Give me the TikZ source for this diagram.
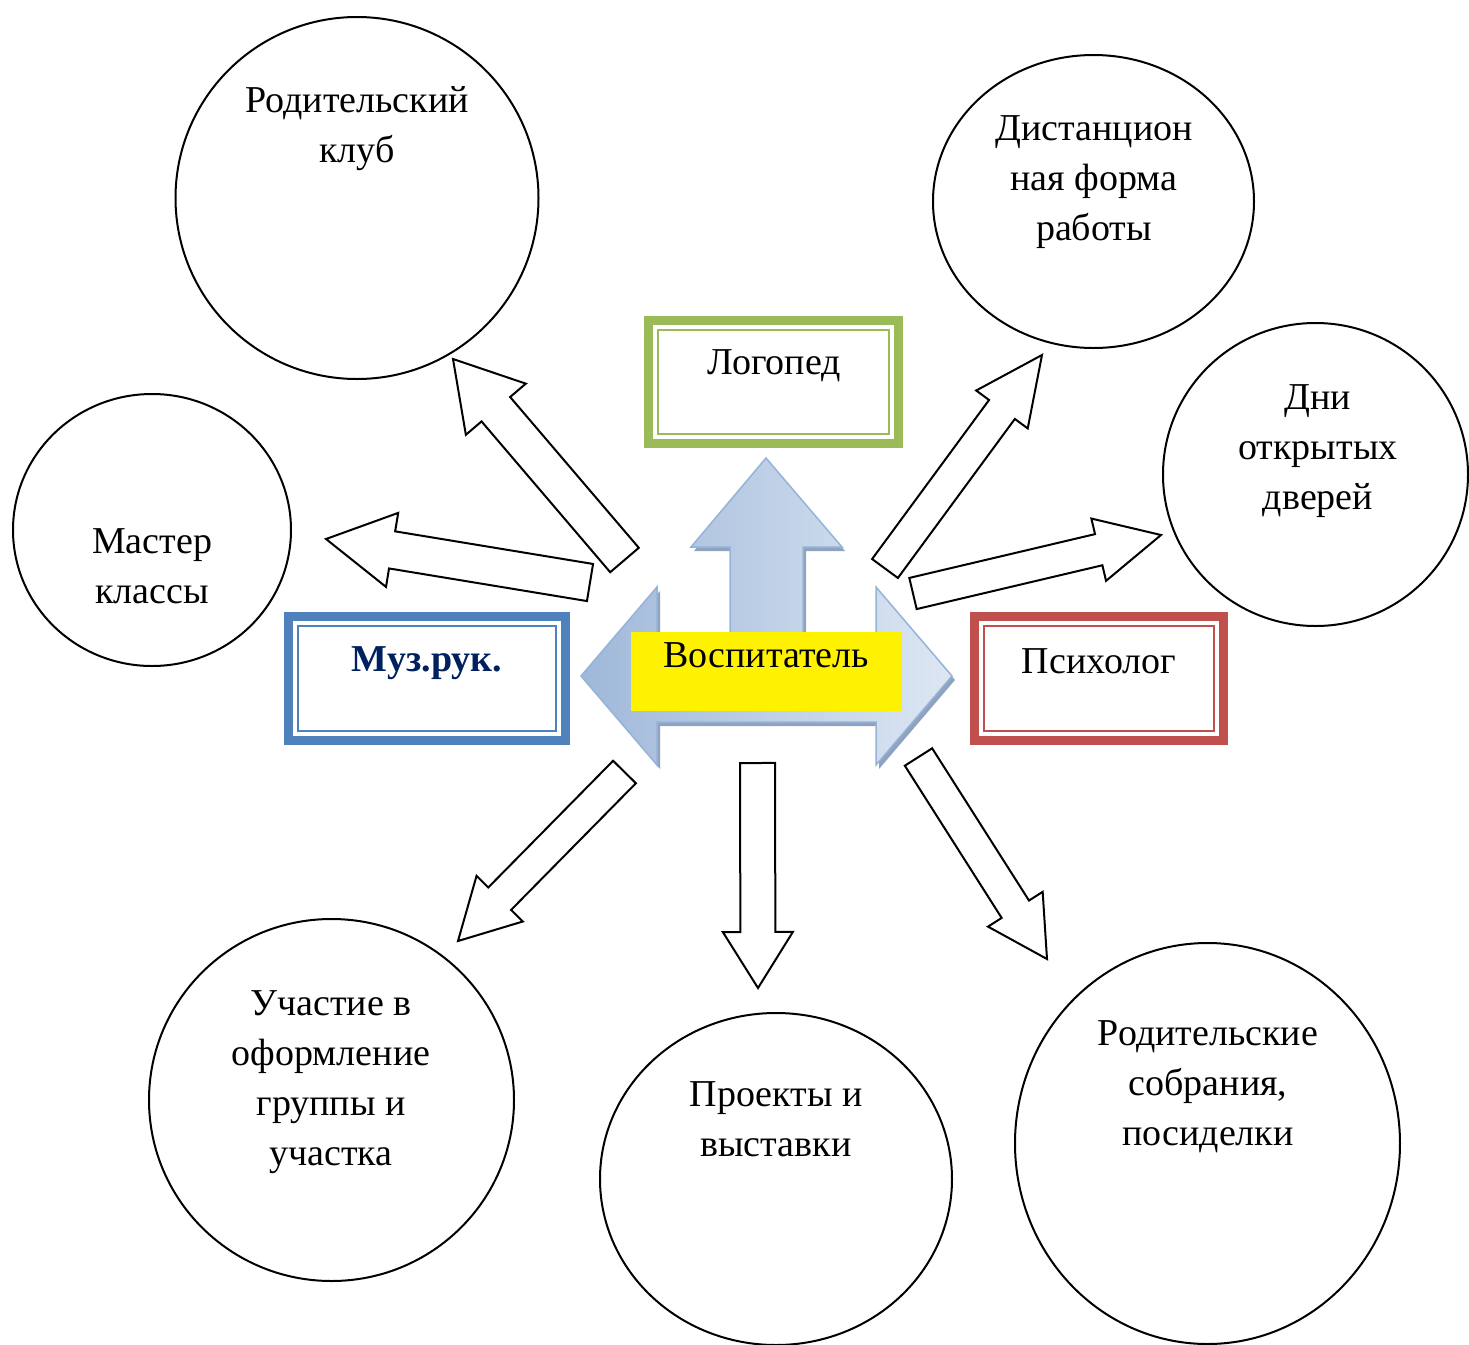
\documentclass[tikz,border=0pt]{standalone}
\usepackage{fontspec}
\setmainfont{Liberation Serif}
\usetikzlibrary{calc,shapes.geometric,positioning}

\definecolor{logogreen}{HTML}{9BBB59}
\definecolor{muzblue}{HTML}{4F81BD}
\definecolor{psyred}{HTML}{C0504D}
\definecolor{muznavy}{HTML}{002060}
\definecolor{arrowedge}{HTML}{95B3D7}
\definecolor{arrowdark}{HTML}{9FB8D9}
\definecolor{arrowmid}{HTML}{D2DDEE}
\definecolor{arrowlight}{HTML}{DDE7F3}
\definecolor{arrowshade}{HTML}{8FA3C0}

\tikzset{
  bubble/.style={ellipse, draw, line width=1pt, inner sep=0pt},
  lbl/.style={align=center, font=\fontsize{19}{25}\selectfont, inner sep=0pt},
  framebox/.style={draw=#1, line width=4.5pt, inner sep=0pt},
  innerframe/.style={draw=#1, line width=1pt, inner sep=0pt},
  blockline/.style={draw=black, fill=white, line width=1pt, line join=miter},
}

% tail, tip, half shaft, half head, head length
\newcommand{\blockarrow}[5]{%
  \coordinate (ba-h) at ($(#2)!#5!(#1)$);
  \draw[blockline] ($(#1)!#3!90:(#2)$) -- ($(ba-h)!#3!90:(#2)$)
    -- ($(ba-h)!#4!90:(#2)$) -- (#2) -- ($(ba-h)!#4!-90:(#2)$)
    -- ($(ba-h)!#3!-90:(#2)$) -- ($(#1)!#3!-90:(#2)$) -- cycle;
}

\newcommand{\vosppath}{(766,458) -- (842,547) -- (803,547) -- (803,650)
  -- (876,650) -- (876,587) -- (952,676) -- (876,765) -- (876,722)
  -- (657,722) -- (657,765) -- (581,676) -- (657,587) -- (657,650)
  -- (730,650) -- (730,547) -- (691,547) -- cycle}

\begin{document}
\begin{tikzpicture}[x=0.5pt, y=-0.5pt]
  \useasboundingbox (0,0) rectangle (1469,1345);
  \clip (0,0) rectangle (1469,1345);

  % circles
  \node[bubble, minimum width=181.5pt, minimum height=181pt] (klub) at (357,198) {};
  \node[bubble, minimum width=139pt, minimum height=136pt] (master) at (152,530) {};
  \node[bubble, minimum width=160.5pt, minimum height=146.5pt] (dist) at (1093.5,201.5) {};
  \node[bubble, minimum width=152.5pt, minimum height=151.5pt] (dni) at (1315.5,474.5) {};
  \node[bubble, minimum width=182.5pt, minimum height=181pt] (uchast) at (331.5,1100) {};
  \node[bubble, minimum width=176pt, minimum height=166pt] (proekt) at (776,1179) {};
  \node[bubble, minimum width=192.5pt, minimum height=200.5pt] (sobr) at (1207.5,1143.5) {};

  \node[lbl] (klubtxt) at (357,129) {Родительский\\клуб};
  \node[lbl] (mastertxt) at (152,566) {Мастер\\классы};
  \node[lbl] (disttxt) at (1094,182) {Дистанцион\\ная форма\\работы};
  \node[lbl] (dnitxt) at (1318,451) {Дни\\открытых\\дверей};
  \node[lbl] (uchasttxt) at (331,1082) {Участие в\\оформление\\группы и\\участка};
  \node[lbl] (proekttxt) at (776,1119) {Проекты и\\выставки};
  \node[lbl] (sobrtxt) at (1208,1087) {Родительские\\собрания,\\посиделки};

  % central three-way arrow
  \fill[arrowshade, shift={(3,4)}] \vosppath;
  \shadedraw[left color=arrowdark, middle color=arrowmid, right color=arrowlight,
    draw=arrowedge, line width=0.75pt] \vosppath;
  \node[fill=yellow, minimum width=135.5pt, minimum height=39.5pt, inner sep=0pt] (vosp) at (766.5,671.5) {};
  \node[lbl] (vosptxt) at (766,655) {Воспитатель};

  % framed boxes
  \node[framebox=logogreen, minimum width=125pt, minimum height=61.5pt] (logo) at (773.5,382) {};
  \node[framebox=muzblue, minimum width=138.5pt, minimum height=62pt] (muz) at (427,678.5) {};
  \node[framebox=psyred, minimum width=124.5pt, minimum height=62pt] (psy) at (1099,678.5) {};
  \node[innerframe=logogreen, minimum width=115.5pt, minimum height=52pt] (logoin) at (logo) {};
  \node[innerframe=muzblue, minimum width=129pt, minimum height=52.5pt] (muzin) at (muz) {};
  \node[innerframe=psyred, minimum width=115pt, minimum height=52.5pt] (psyin) at (psy) {};

  \node[lbl] (logotxt) at (774,366) {Логопед};
  \node[lbl, font=\fontsize{19}{25}\selectfont\bfseries, text=muznavy] (muztxt) at (427,663) {Муз.рук.};
  \node[lbl] (psytxt) at (1099,661) {Психолог};

  % block arrows
  \coordinate (klubtail) at (624.5,560);   \coordinate (klubtip) at (453,359);
  \coordinate (mastertail) at (590,582.5); \coordinate (mastertip) at (326,539);
  \coordinate (disttail) at (885,568.5);   \coordinate (disttip) at (1042,355);
  \coordinate (dnitail) at (913,593.5);    \coordinate (dnitip) at (1161,535);
  \coordinate (uchasttail) at (624.5,772); \coordinate (uchasttip) at (458,941);
  \coordinate (proekttail) at (757.5,763); \coordinate (proekttip) at (758,988);
  \coordinate (sobrtail) at (918.5,757);   \coordinate (sobrtip) at (1047,959);

  \blockarrow{klubtail}{klubtip}{9.4pt}{19.7pt}{33pt}
  \blockarrow{mastertail}{mastertip}{9.4pt}{18.75pt}{33.5pt}
  \blockarrow{disttail}{disttip}{8pt}{16pt}{33.8pt}
  \blockarrow{dnitail}{dnitip}{8pt}{16pt}{32pt}
  \blockarrow{uchasttail}{uchasttip}{8pt}{16.25pt}{29.7pt}
  \blockarrow{proekttail}{proekttip}{8.75pt}{17.5pt}{28pt}
  \blockarrow{sobrtail}{sobrtip}{8.1pt}{16.2pt}{29.5pt}
\end{tikzpicture}
\end{document}
